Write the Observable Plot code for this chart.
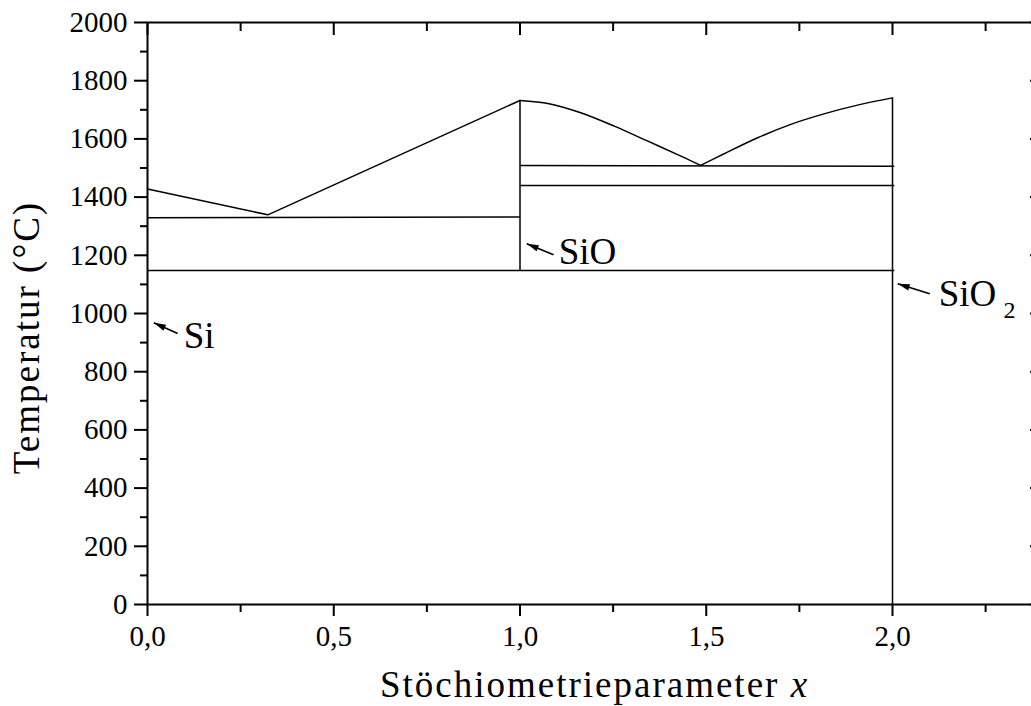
<!DOCTYPE html>
<html>
<head>
<meta charset="utf-8">
<script src="https://cdn.jsdelivr.net/npm/d3@7"></script>
<script src="https://cdn.jsdelivr.net/npm/@observablehq/plot@0.6"></script>
<style>
  html, body { margin: 0; padding: 0; background: white; overflow: hidden; }
  #chart { width: 1031px; height: 706px; overflow: hidden; }
  #chart svg { display: block; max-width: none !important; }
  #chart svg text { font-family: 'Liberation Serif', 'Times New Roman', serif; }
</style>
</head>
<body>
<div id="chart"></div>
<script>
// ---- data ----
const xMajorTicks = [0, 0.5, 1.0, 1.5, 2.0];
const xMajorLabels = ["0,0", "0,5", "1,0", "1,5", "2,0"];
const xMinorTicks = [0.25, 0.75, 1.25, 1.75, 2.25];
const yMajorTicks = [0, 200, 400, 600, 800, 1000, 1200, 1400, 1600, 1800, 2000];
const yMinorTicks = [100, 300, 500, 700, 900, 1100, 1300, 1500, 1700, 1900];

// left liquidus (Si side) with eutectic
const liquidusLeftX = [0, 0.323, 1.0];
const liquidusLeftT = [1428, 1339, 1732];
// dome between SiO and the eutectic
const domeX = [1.0, 1.078, 1.163, 1.253, 1.342, 1.432, 1.485];
const domeT = [1732, 1721, 1690, 1644, 1593, 1541, 1509];
// rising liquidus towards SiO2
const riseX = [1.485, 1.548, 1.638, 1.727, 1.816, 1.906, 2.0];
const riseT = [1509, 1549, 1604, 1650, 1686, 1716, 1741];

// straight phase boundaries: start x, end x, start T, end T
const segX1 = [0, 0, 1.0, 1.0, 1.0, 2.0];
const segX2 = [1.0, 2.005, 2.005, 2.005, 1.0, 2.0];
const segT1 = [1329, 1148, 1509, 1440, 1148, 0];
const segT2 = [1332, 1148, 1506, 1440, 1732, 1741];

// annotations: label, label position, arrow tail and tip
const annLabels = ["Si", "SiO", "SiO"];
const annX = [0.097, 1.104, 2.124];
const annT = [922, 1210, 1066];
const arrowX1 = [0.081, 1.090, 2.100];
const arrowT1 = [931, 1202, 1068];
const arrowX2 = [0.017, 1.018, 2.014];
const arrowT2 = [968, 1240, 1102];
const subLabels = ["2"];
const subX = [2.298];
const subT = [1010];

// ---- tables for Plot ----
const curve = (xs, ts) => xs.map((x, i) => ({x, t: ts[i]}));
const segments = segX1.map((x1, i) => ({x1, x2: segX2[i], t1: segT1[i], t2: segT2[i]}));
const arrows = arrowX1.map((x1, i) => ({x1, t1: arrowT1[i], x2: arrowX2[i], t2: arrowT2[i]}));
const labels = annLabels.map((s, i) => ({s, x: annX[i], t: annT[i]}));
const subs = subLabels.map((s, i) => ({s, x: subX[i], t: subT[i]}));

const headSymbol = {
  draw(ctx) {
    ctx.moveTo(0, 0);
    ctx.lineTo(-3.2, 12);
    ctx.lineTo(3.2, 12);
    ctx.closePath();
  }
};

const FONT = "'Liberation Serif', 'Times New Roman', serif";
const lineStyle = {stroke: "black", strokeWidth: 1.5};

const chart = Plot.plot({
  width: 1060,
  height: 706,
  marginLeft: 147,
  marginRight: 19,
  marginTop: 22,
  marginBottom: 102,
  style: {fontFamily: FONT, fontSize: "29px", color: "black", background: "white", overflow: "visible", maxWidth: "none"},
  x: {domain: [0, 2.4]},
  y: {domain: [0, 2000]},
  marks: [
    // data
    Plot.line(curve(liquidusLeftX, liquidusLeftT), {x: "x", y: "t", ...lineStyle}),
    Plot.line(curve(domeX, domeT), {x: "x", y: "t", curve: "catmull-rom", ...lineStyle}),
    Plot.line(curve(riseX, riseT), {x: "x", y: "t", curve: "catmull-rom", ...lineStyle}),
    Plot.link(segments, {x1: "x1", x2: "x2", y1: "t1", y2: "t2", ...lineStyle}),
    // annotations
    Plot.link(arrows, {x1: "x1", y1: "t1", x2: "x2", y2: "t2", stroke: "black", strokeWidth: 1.6}),
    Plot.dot(arrows, {
      x: "x2", y: "t2", symbol: headSymbol, fill: "black", stroke: "none", r: 5,
      rotate: () => 0,
      render(index, scales, values, dims, ctx, next) {
        const rot = Float64Array.from(arrows, d => {
          const dx = scales.x(d.x2) - scales.x(d.x1);
          const dy = scales.y(d.t2) - scales.y(d.t1);
          return Math.atan2(dx, -dy) * 180 / Math.PI;
        });
        return next(index, scales, {...values, rotate: rot}, dims, ctx);
      }
    }),
    Plot.text(labels, {x: "x", y: "t", text: "s", textAnchor: "start", fontSize: 37, fontFamily: FONT, fill: "black"}),
    Plot.text(subs, {x: "x", y: "t", text: "s", textAnchor: "start", fontSize: 24, fontFamily: FONT, fill: "black"}),
    // axes
    Plot.frame({stroke: "black", strokeWidth: 2}),
    Plot.axisY({ticks: yMajorTicks, tickSize: 13, tickPadding: 7, strokeWidth: 2, fontSize: 29, fontFamily: FONT, label: null, tickFormat: d => String(d)}),
    Plot.axisY({ticks: yMinorTicks, tickSize: 7, strokeWidth: 2, label: null, tickFormat: () => ""}),
    Plot.axisX({ticks: xMajorTicks, tickSize: 12, tickPadding: 9, strokeWidth: 2, fontSize: 29, fontFamily: FONT, label: null,
      tickFormat: d => xMajorLabels[xMajorTicks.indexOf(d)]}),
    Plot.axisX({ticks: xMinorTicks, tickSize: 8, strokeWidth: 2, label: null, tickFormat: () => ""}),
    Plot.axisX({anchor: "top", ticks: xMajorTicks, tickSize: 12, dy: 12, strokeWidth: 2, label: null, tickFormat: () => ""}),
    Plot.axisX({anchor: "top", ticks: xMinorTicks, tickSize: 8, dy: 8, strokeWidth: 2, label: null, tickFormat: () => ""}),
    Plot.axisY({anchor: "right", ticks: yMajorTicks, tickSize: 12, dx: -12, strokeWidth: 2, label: null, tickFormat: () => ""})
  ]
});

document.getElementById("chart").appendChild(chart);

// axis titles (with italic x)
const svg = d3.select(chart);
const xt = svg.append("text")
  .attr("x", 594.5).attr("y", 697)
  .attr("text-anchor", "middle")
  .attr("font-family", FONT).attr("font-size", 37)
  .attr("letter-spacing", "2px").attr("fill", "black");
xt.append("tspan").text("Stöchiometrieparameter ");
xt.append("tspan").attr("font-style", "italic").text("x");

svg.append("text")
  .attr("transform", "translate(39,337.5) rotate(-90)")
  .attr("text-anchor", "middle")
  .attr("font-family", FONT).attr("font-size", 37)
  .attr("letter-spacing", "2px").attr("fill", "black")
  .text("Temperatur (°C)");
</script>
</body>
</html>
